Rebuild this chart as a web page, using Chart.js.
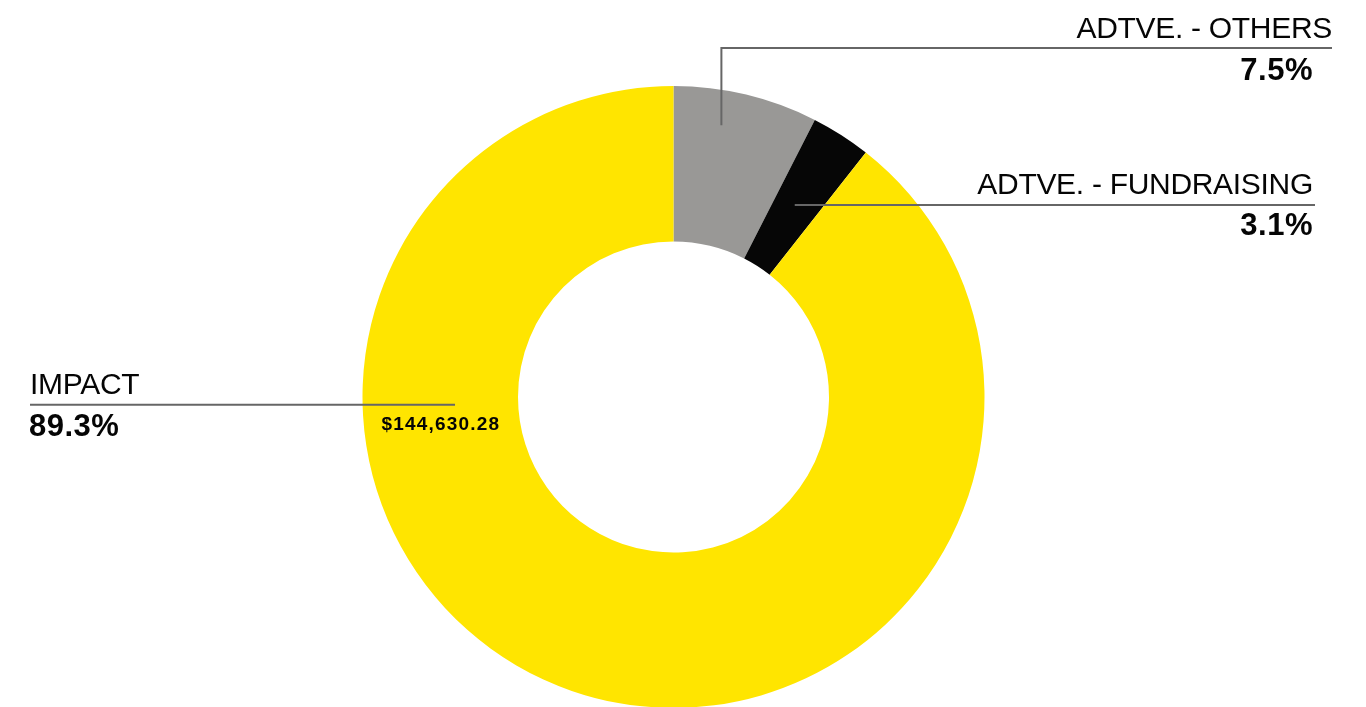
<!DOCTYPE html>
<html>
<head>
<meta charset="utf-8">
<script src="https://cdn.jsdelivr.net/npm/chart.js@4"></script>
<style>
  html, body { margin: 0; padding: 0; background: #fff; overflow: hidden; }
  #wrap { position: absolute; left: 0; top: 0; width: 1366px; height: 720px; }
</style>
</head>
<body>
<div id="wrap"><canvas id="cost-split"></canvas></div>
<script>
// data
const segLabels = ['ADTVE. - OTHERS', 'ADTVE. - FUNDRAISING', 'IMPACT'];
const segShares = [7.5, 3.1, 89.3];
const segColors = ['#999896', '#060606', '#FFE500'];
const impactAmount = '$144,630.28';

// callout layout (where the leader line starts inside the ring, where text sits)
const callouts = [
  { frac: 0.37, rad: 0.887, elbowY: 48, endX: 1332, align: 'right', textX: 1332, labelY: 38, pctX: 1313, pctY: 80 },
  { frac: 0.47, rad: 0.73, endX: 1315, align: 'right', textX: 1313, labelY: 194, pctX: 1313, pctY: 235 },
  { frac: 0.714, rad: 0.703, endX: 30, align: 'left', textX: 30, labelY: 394, pctX: 29, pctY: 436 }
];

const calloutPlugin = {
  id: 'callouts',
  afterDatasetsDraw(chart) {
    const { ctx } = chart;
    const arcs = chart.getDatasetMeta(0).data;
    ctx.save();
    arcs.forEach((arc, i) => {
      const c = callouts[i];
      const ang = arc.startAngle + c.frac * (arc.endAngle - arc.startAngle);
      const ax = arc.x + Math.cos(ang) * arc.outerRadius * c.rad;
      const ay = arc.y + Math.sin(ang) * arc.outerRadius * c.rad;

      ctx.strokeStyle = '#666';
      ctx.lineWidth = 2;
      ctx.beginPath();
      ctx.moveTo(ax, ay);
      if (c.elbowY !== undefined) {
        ctx.lineTo(ax, c.elbowY);
        ctx.lineTo(c.endX, c.elbowY);
      } else {
        ctx.lineTo(c.endX, ay);
      }
      ctx.stroke();

      ctx.fillStyle = '#050505';
      ctx.textAlign = c.align;
      ctx.textBaseline = 'alphabetic';
      ctx.letterSpacing = '-0.3px';
      ctx.font = '30px "Liberation Sans", Arial, sans-serif';
      ctx.fillText(segLabels[i], c.textX, c.labelY);
      ctx.letterSpacing = '0.5px';
      ctx.font = 'bold 31px "Liberation Sans", Arial, sans-serif';
      ctx.fillText(segShares[i] + '%', c.pctX, c.pctY);
    });

    // amount written on the impact segment
    const imp = arcs[2];
    ctx.letterSpacing = '1.2px';
    ctx.font = 'bold 19px "Liberation Sans", Arial, sans-serif';
    ctx.textAlign = 'left';
    ctx.fillStyle = '#050505';
    ctx.fillText(impactAmount, imp.x - imp.outerRadius * 0.939, imp.y + 33);
    ctx.restore();
  }
};

const config = {
  type: 'doughnut',
  data: {
    labels: segLabels,
    datasets: [{
      data: segShares,
      backgroundColor: segColors,
      borderWidth: 0,
      cutout: '50%'
    }]
  },
  options: {
    responsive: true,
    maintainAspectRatio: false,
    animation: false,
    events: [],
    layout: { padding: { top: 86, bottom: 12, left: 0, right: 19 } },
    plugins: {
      legend: { display: false },
      tooltip: { enabled: false }
    }
  },
  plugins: [calloutPlugin]
};

const costChart = new Chart(document.getElementById('cost-split'), config);
</script>
</body>
</html>
